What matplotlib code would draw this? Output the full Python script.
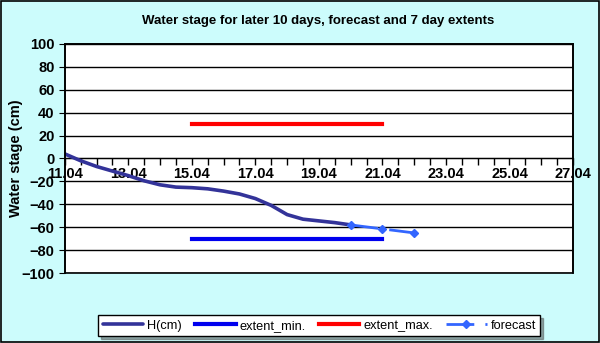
import numpy as np
import matplotlib
matplotlib.use('Agg')
import matplotlib.pyplot as plt
import matplotlib.dates as mdates
from matplotlib.patches import Rectangle

plt.rcParams['font.family'] = ['Liberation Sans', 'DejaVu Sans']

# observed stage, read every half day
h_dates = np.arange(np.datetime64('2011-04-11'), np.datetime64('2011-04-20T12'),
                    np.timedelta64(12, 'h'))
h_values = [4, -2, -7, -11, -15, -19.5, -23, -25, -25.5, -26.5, -28.5, -31, -35, -41,
            -49, -53, -54.5, -56, -58]

fc_dates = np.array(['2011-04-20', '2011-04-21', '2011-04-22'], dtype='datetime64[D]')
fc_values = [-58, -61.5, -65]

ext_dates = np.array(['2011-04-15', '2011-04-21'], dtype='datetime64[D]')
ext_min = [-70, -70]
ext_max = [30, 30]

fig = plt.figure(figsize=(6, 3.43), dpi=100)
fig.patch.set_facecolor('#ccfcfc')
fig.patches.append(Rectangle((0.001, 0.003), 0.997, 0.995, transform=fig.transFigure,
                             fill=False, edgecolor='black', linewidth=1.2))

ax = fig.add_axes([0.108, 0.204, 0.847, 0.668])
ax.set_facecolor('white')

ax.plot(h_dates, h_values, color='#333399', linewidth=2.6, label='H(cm)',
        solid_capstyle='round', solid_joinstyle='round')
ax.plot(ext_dates, ext_min, color='#0000ee', linewidth=3, label='extent_min.')
ax.plot(ext_dates, ext_max, color='#ff0000', linewidth=3, label='extent_max.')
ax.plot(fc_dates, fc_values, color='#3366ff', linewidth=2, linestyle=(0, (10, 4)),
        marker='D', markersize=4, label='forecast')

ax.set_xlim(np.datetime64('2011-04-11'), np.datetime64('2011-04-27'))
ax.set_ylim(-100, 100)
ax.set_yticks(np.arange(-100, 101, 20))
ax.grid(axis='y', color='black', linewidth=1)
ax.set_axisbelow(True)

ax.xaxis.set_major_locator(mdates.DayLocator(interval=2))
ax.xaxis.set_minor_locator(mdates.HourLocator(byhour=[0, 12]))
ax.xaxis.set_major_formatter(mdates.DateFormatter('%d.%m'))
ax.spines['bottom'].set_position(('data', 0))
ax.spines['bottom'].set_zorder(1.5)
for s in ['top', 'right', 'left']:
    ax.spines[s].set_linewidth(1.2)
ax.add_patch(Rectangle((0, 0), 1, 1, transform=ax.transAxes, fill=False,
                       edgecolor='black', linewidth=1.2, zorder=3, clip_on=False))
ax.tick_params(axis='x', which='both', direction='out', length=5, width=1,
               labelsize=10.5, pad=1)
ax.tick_params(axis='y', length=4, labelsize=10.5)
for lab in ax.get_xticklabels() + ax.get_yticklabels():
    lab.set_fontweight('bold')

ax.set_ylabel('Water stage (cm)', fontsize=10.5, fontweight='bold')
ax.yaxis.set_label_coords(-0.083, 0.5)
fig.text(0.53, 0.94, 'Water stage for later 10 days, forecast and 7 day extents',
         ha='center', va='center', fontsize=9.5, fontweight='bold')

leg = fig.legend(loc='center', bbox_to_anchor=(0.532, 0.05), ncol=4, fontsize=9.2,
                 frameon=True, fancybox=False, shadow=True, handlelength=3.2,
                 columnspacing=1.0, handletextpad=0.3, borderpad=0.35)
leg.get_frame().set_edgecolor('black')
leg.get_frame().set_linewidth(1)

fig.savefig('out.png', dpi=100, facecolor=fig.get_facecolor())
